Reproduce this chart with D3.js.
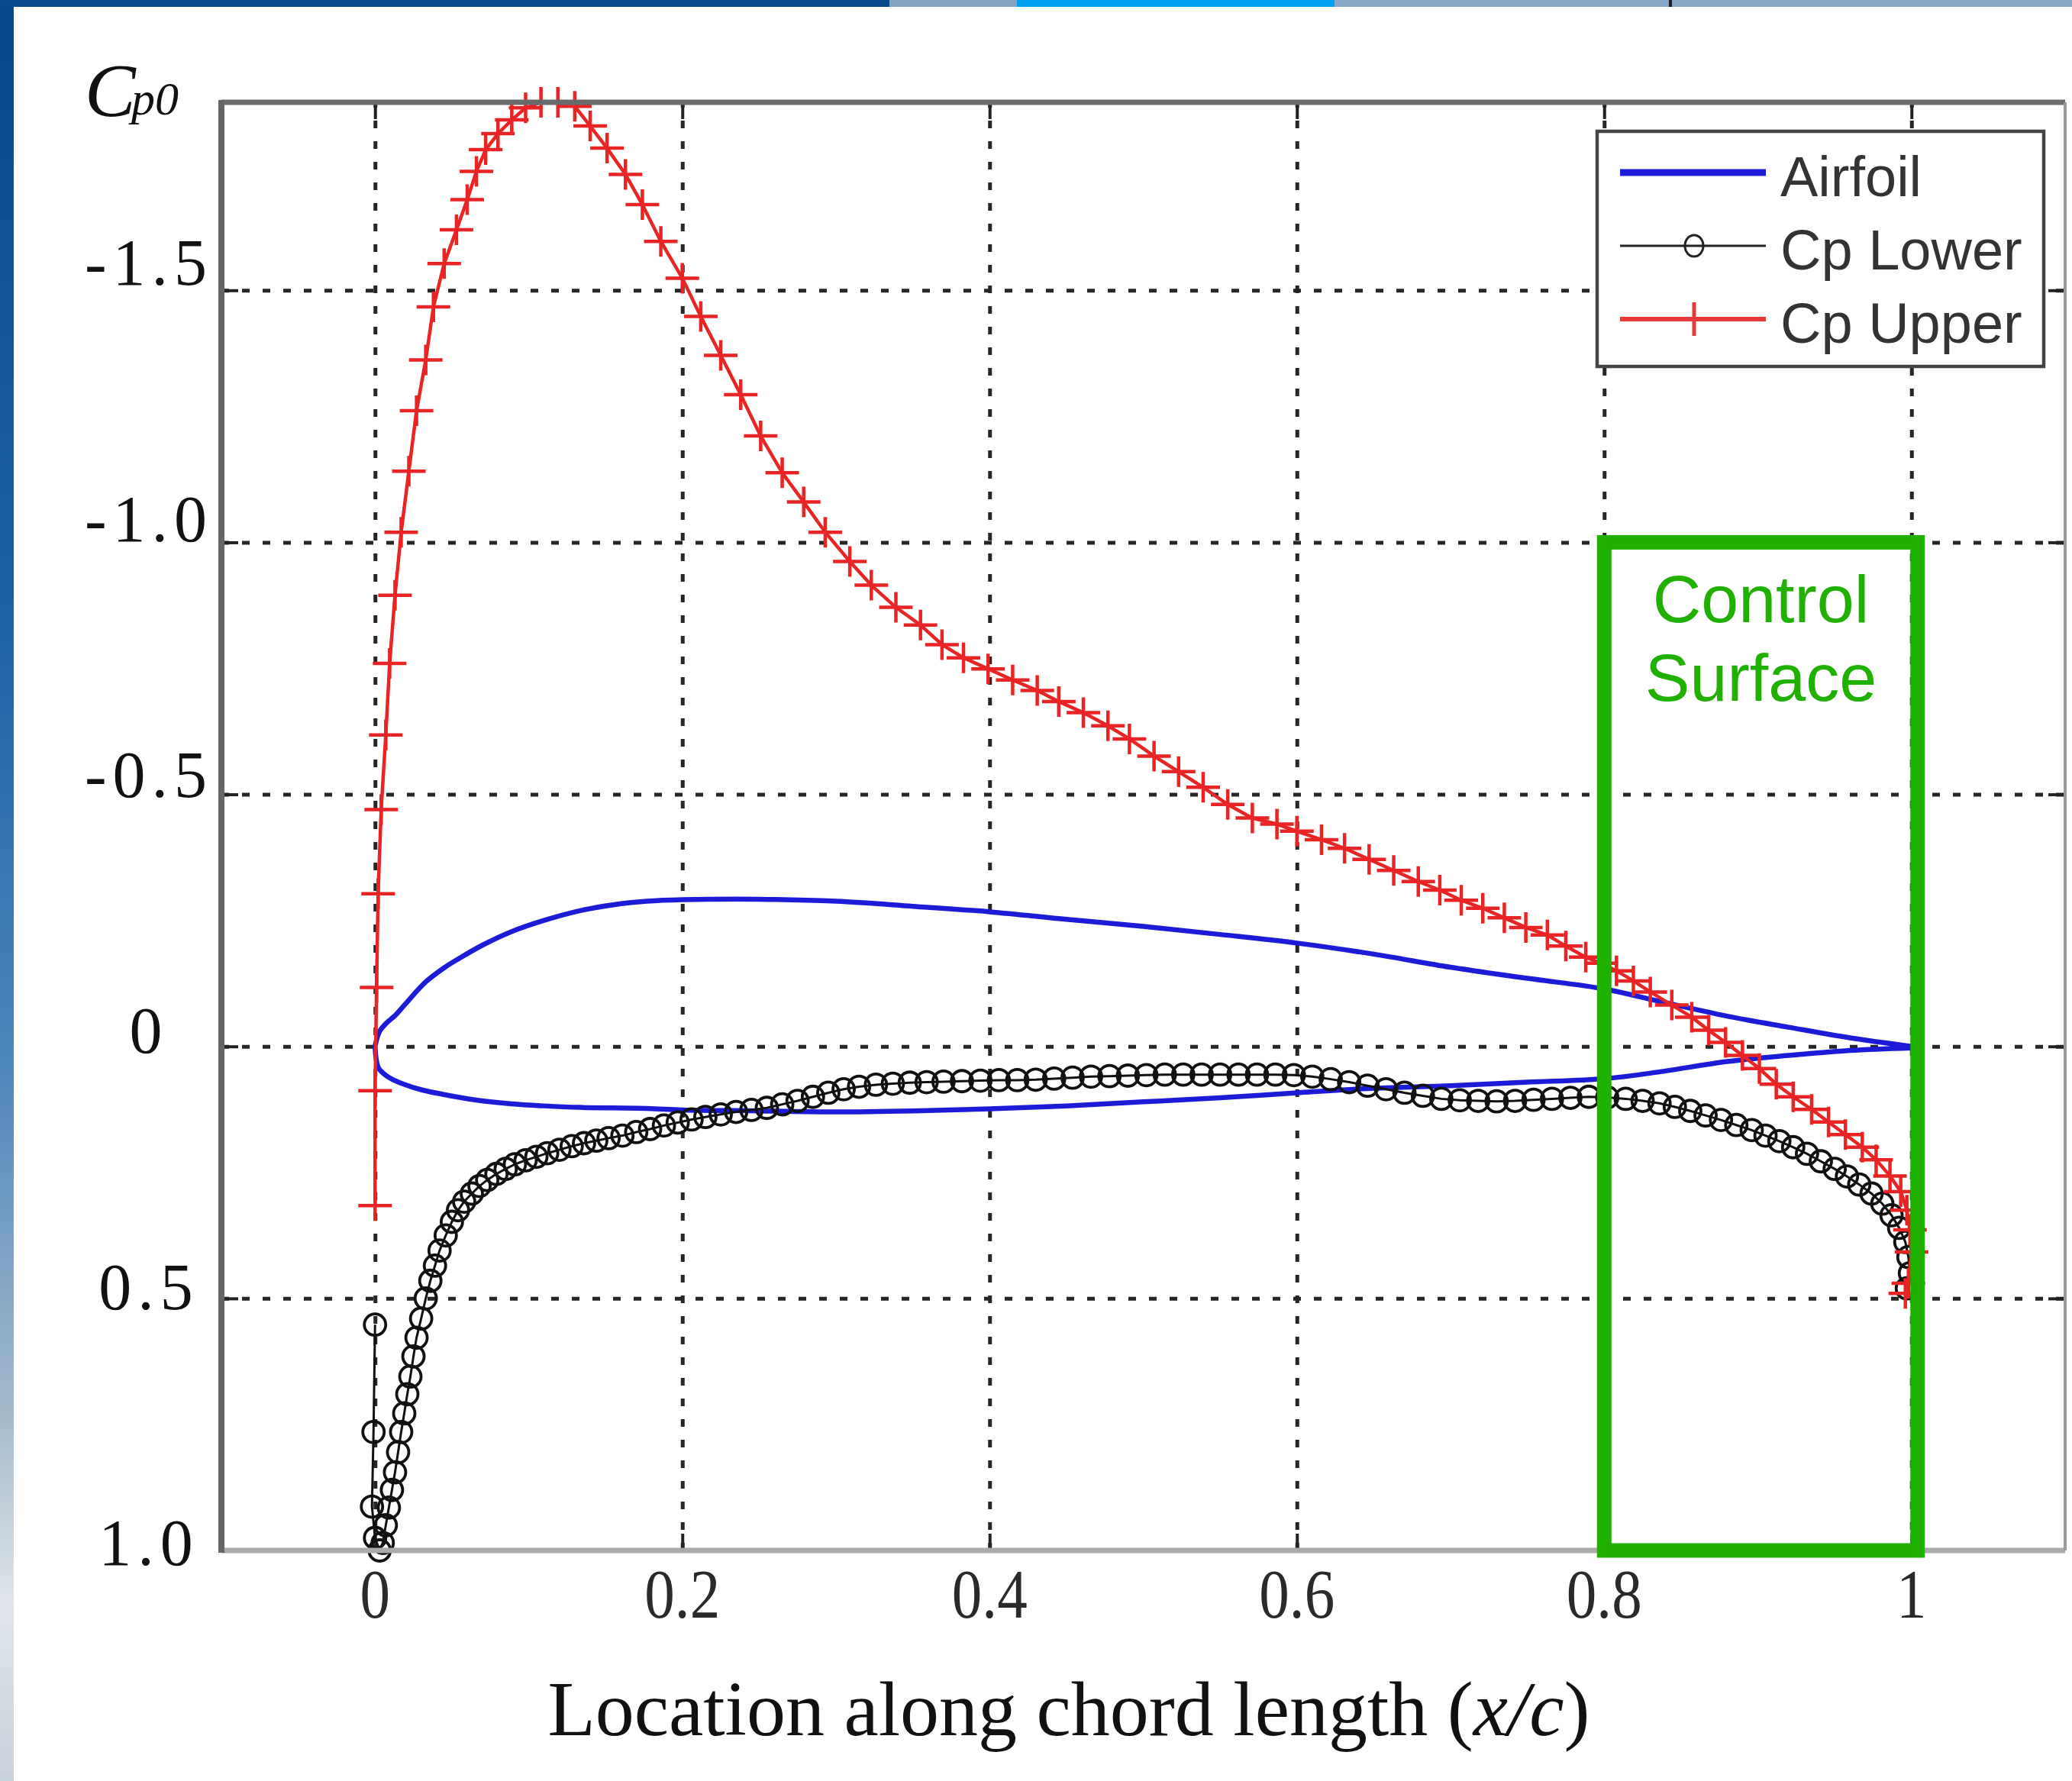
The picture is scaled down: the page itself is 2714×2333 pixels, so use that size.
<!DOCTYPE html>
<html>
<head>
<meta charset="utf-8">
<script src="https://cdn.jsdelivr.net/npm/d3@7"></script>
<style>
body { margin: 0; background: #fff; }
svg { display: block; }
.serif { font-family: "Liberation Serif", "DejaVu Serif", serif; }
.sans { font-family: "Liberation Sans", Arial, sans-serif; }
</style>
</head>
<body>
<svg id="chart" width="2714" height="2333"></svg>
<script>
const xTicks = [0, 0.2, 0.4, 0.6, 0.8, 1];
const xTickLabels = ["0", "0.2", "0.4", "0.6", "0.8", "1"];
const yTicks = [-1.5, -1.0, -0.5, 0, 0.5, 1.0];
const yTickLabels = ["-1.5", "-1.0", "-0.5", "0", "0.5", "1.0"];
const xDomain = [-0.1, 1.1];
const yDomain = [-1.873, 1.0];

// airfoil outline, drawn on the Cp axes
const airfoilUpper = [
	[0, 0], [0.003, -0.03], [0.008, -0.048], [0.013, -0.061], [0.02, -0.085], [0.033, -0.128],
	[0.045, -0.156], [0.055, -0.175], [0.07, -0.201], [0.089, -0.228], [0.11, -0.25], [0.133, -0.269],
	[0.155, -0.281], [0.177, -0.288], [0.2, -0.291], [0.25, -0.292], [0.3, -0.288], [0.35, -0.278],
	[0.4, -0.267], [0.45, -0.252], [0.5, -0.238], [0.55, -0.222], [0.6, -0.205], [0.65, -0.183],
	[0.7, -0.157], [0.75, -0.135], [0.8, -0.114], [0.835, -0.09], [0.88, -0.06], [0.92, -0.038],
	[0.96, -0.017], [1.0, 0]
];
const airfoilLower = [
	[0, 0], [0.002, 0.041], [0.006, 0.055], [0.011, 0.065], [0.017, 0.073], [0.03, 0.086],
	[0.044, 0.095], [0.065, 0.106], [0.089, 0.114], [0.11, 0.118], [0.133, 0.121], [0.177, 0.123],
	[0.2, 0.126], [0.25, 0.128], [0.3, 0.13], [0.35, 0.128], [0.4, 0.124], [0.45, 0.118],
	[0.5, 0.11], [0.55, 0.102], [0.6, 0.092], [0.65, 0.083], [0.7, 0.078], [0.75, 0.071],
	[0.8, 0.064], [0.835, 0.051], [0.88, 0.03], [0.92, 0.018], [0.96, 0.008], [1.0, 0.003]
];

const cpLower = [
	[0.000, 0.552], [-0.001, 0.765], [-0.002, 0.913], [0.000, 0.975], [0.003, 1.000], [0.005, 0.985],
	[0.007, 0.950], [0.009, 0.915], [0.011, 0.880], [0.013, 0.845], [0.015, 0.805], [0.017, 0.765],
	[0.019, 0.728], [0.021, 0.690], [0.023, 0.655], [0.025, 0.615], [0.027, 0.578], [0.030, 0.540],
	[0.033, 0.500], [0.036, 0.465], [0.039, 0.435], [0.042, 0.405], [0.046, 0.375], [0.050, 0.348],
	[0.054, 0.325], [0.058, 0.308], [0.063, 0.292], [0.068, 0.277], [0.073, 0.265], [0.079, 0.253],
	[0.085, 0.243], [0.091, 0.234], [0.098, 0.226], [0.105, 0.219], [0.112, 0.212], [0.120, 0.205],
	[0.128, 0.198], [0.136, 0.192], [0.144, 0.187], [0.152, 0.182], [0.161, 0.177], [0.170, 0.170],
	[0.179, 0.164], [0.188, 0.157], [0.197, 0.151], [0.206, 0.145], [0.215, 0.140], [0.225, 0.135],
	[0.235, 0.130], [0.245, 0.126], [0.255, 0.122], [0.265, 0.115], [0.275, 0.108], [0.285, 0.100],
	[0.295, 0.092], [0.305, 0.085], [0.315, 0.080], [0.326, 0.076], [0.337, 0.074], [0.348, 0.072],
	[0.359, 0.071], [0.370, 0.070], [0.382, 0.069], [0.394, 0.068], [0.406, 0.067], [0.418, 0.067],
	[0.430, 0.066], [0.442, 0.064], [0.454, 0.062], [0.466, 0.060], [0.478, 0.059], [0.490, 0.058],
	[0.502, 0.057], [0.514, 0.056], [0.526, 0.056], [0.538, 0.056], [0.550, 0.056], [0.562, 0.056],
	[0.574, 0.056], [0.586, 0.056], [0.598, 0.057], [0.610, 0.060], [0.622, 0.065], [0.634, 0.071],
	[0.646, 0.078], [0.658, 0.085], [0.670, 0.092], [0.682, 0.098], [0.694, 0.104], [0.706, 0.107],
	[0.718, 0.108], [0.730, 0.109], [0.742, 0.108], [0.754, 0.106], [0.766, 0.104], [0.778, 0.102],
	[0.790, 0.100], [0.802, 0.101], [0.814, 0.104], [0.825, 0.108], [0.836, 0.113], [0.846, 0.120],
	[0.856, 0.128], [0.866, 0.137], [0.876, 0.146], [0.886, 0.156], [0.896, 0.166], [0.905, 0.177],
	[0.914, 0.188], [0.923, 0.200], [0.932, 0.213], [0.941, 0.228], [0.950, 0.243], [0.958, 0.258],
	[0.966, 0.274], [0.974, 0.292], [0.981, 0.312], [0.987, 0.335], [0.992, 0.360], [0.996, 0.388],
	[0.998, 0.418], [0.999, 0.450], [0.997, 0.480]
];

const cpUpper = [
	[0.000, 0.316], [0.000, 0.088], [0.001, -0.117], [0.002, -0.303], [0.004, -0.470], [0.007, -0.618],
	[0.0095, -0.760], [0.013, -0.895], [0.017, -1.020], [0.022, -1.141], [0.027, -1.261], [0.033, -1.362],
	[0.038, -1.467], [0.045, -1.553], [0.053, -1.620], [0.060, -1.680], [0.066, -1.736], [0.072, -1.779],
	[0.080, -1.811], [0.089, -1.838], [0.098, -1.862], [0.108, -1.873], [0.119, -1.873], [0.130, -1.865],
	[0.140, -1.826], [0.151, -1.782], [0.163, -1.730], [0.174, -1.670], [0.186, -1.597], [0.200, -1.524],
	[0.212, -1.448], [0.225, -1.371], [0.238, -1.293], [0.251, -1.211], [0.265, -1.138], [0.279, -1.080],
	[0.293, -1.020], [0.309, -0.962], [0.323, -0.915], [0.339, -0.871], [0.355, -0.836], [0.369, -0.797],
	[0.383, -0.771], [0.399, -0.749], [0.415, -0.727], [0.431, -0.706], [0.445, -0.684], [0.461, -0.662],
	[0.477, -0.636], [0.491, -0.610], [0.507, -0.576], [0.523, -0.545], [0.539, -0.514], [0.555, -0.480],
	[0.571, -0.453], [0.587, -0.441], [0.600, -0.427], [0.616, -0.410], [0.631, -0.393], [0.647, -0.371],
	[0.663, -0.349], [0.679, -0.327], [0.693, -0.310], [0.707, -0.290], [0.721, -0.274], [0.735, -0.255],
	[0.749, -0.236], [0.763, -0.221], [0.775, -0.199], [0.788, -0.177], [0.798, -0.165], [0.808, -0.150],
	[0.819, -0.130], [0.830, -0.108], [0.844, -0.082], [0.857, -0.058], [0.868, -0.032], [0.879, -0.008],
	[0.890, 0.018], [0.901, 0.044], [0.912, 0.075], [0.923, 0.100], [0.935, 0.125], [0.946, 0.150],
	[0.957, 0.175], [0.968, 0.200], [0.977, 0.225], [0.986, 0.257], [0.993, 0.288], [0.997, 0.325],
	[0.999, 0.364], [1.000, 0.408], [0.998, 0.470], [0.996, 0.490]
];

// region marked as the control surface: chord 0.8 to 1, Cp -1 to 1
const controlX = [0.8, 1.0];
const controlY = [-1.0, 1.0];

const margin = {top: 134, right: 9, bottom: 302, left: 290};
const W = 2714, H = 2333;
const width = W - margin.left - margin.right;
const height = H - margin.top - margin.bottom;

const svg = d3.select("#chart");

// slide background showing at the edges
let defs = svg.append("defs");
let grad = defs.append("linearGradient").attr("id", "sideGrad")
	.attr("x1", 0).attr("y1", 0).attr("x2", 0).attr("y2", 1);
[[0, "#08468a"], [0.35, "#1d62a6"], [0.6, "#4f86bb"], [0.8, "#a7bccd"], [0.9, "#dfe5ea"], [1, "#c9d3dc"]]
	.forEach(s => grad.append("stop").attr("offset", s[0]).attr("stop-color", s[1]));
svg.append("rect").attr("x", 0).attr("y", 0).attr("width", 18).attr("height", H).attr("fill", "url(#sideGrad)");
svg.append("rect").attr("x", 0).attr("y", 0).attr("width", 1165).attr("height", 9).attr("fill", "#0b4a8c");
svg.append("rect").attr("x", 1165).attr("y", 0).attr("width", 167).attr("height", 9).attr("fill", "#86a3c3");
svg.append("rect").attr("x", 1332).attr("y", 0).attr("width", 416).attr("height", 9).attr("fill", "#00a2f0");
svg.append("rect").attr("x", 1748).attr("y", 0).attr("width", W - 1748).attr("height", 9).attr("fill", "#88a6c6");
svg.append("rect").attr("x", 2186).attr("y", 0).attr("width", 4).attr("height", 9).attr("fill", "#222");

const g = svg.append("g").attr("transform", "translate(" + margin.left + "," + margin.top + ")");

const x = d3.scaleLinear().domain(xDomain).range([0, width]);
const y = d3.scaleLinear().domain(yDomain).range([0, height]);

// dotted grid
g.append("g")
	.attr("class", "grid")
	.attr("transform", "translate(0," + height + ")")
	.call(d3.axisBottom(x).tickValues(xTicks).tickSize(-height).tickFormat(""));
g.append("g")
	.attr("class", "grid")
	.call(d3.axisLeft(y).tickValues(yTicks.slice(0, 5)).tickSize(-width).tickFormat(""));
g.selectAll(".grid .domain").remove();
g.selectAll(".grid line")
	.attr("stroke", "#262626")
	.attr("stroke-width", 5)
	.attr("stroke-dasharray", "10,17");

// inward ticks on all four sides
g.append("g").attr("class", "tk")
	.call(d3.axisBottom(x).tickValues(xTicks).tickSize(22).tickFormat(""));
g.append("g").attr("class", "tk").attr("transform", "translate(0," + height + ")")
	.call(d3.axisTop(x).tickValues(xTicks).tickSize(22).tickFormat(""));
g.append("g").attr("class", "tk")
	.call(d3.axisRight(y).tickValues(yTicks).tickSize(22).tickFormat(""));
g.append("g").attr("class", "tk").attr("transform", "translate(" + width + ",0)")
	.call(d3.axisLeft(y).tickValues(yTicks).tickSize(22).tickFormat(""));
g.selectAll(".tk .domain").remove();
g.selectAll(".tk line").attr("stroke", "#222").attr("stroke-width", 4);

const line = d3.line().x(d => x(d[0])).y(d => y(d[1]));
const smoothLine = d3.line().x(d => x(d[0])).y(d => y(d[1])).curve(d3.curveCatmullRom);

// airfoil
g.append("path")
	.datum(airfoilUpper.slice().reverse().concat(airfoilLower))
	.attr("d", smoothLine)
	.attr("fill", "none")
	.attr("stroke", "#1c1cd8")
	.attr("stroke-width", 6.5)
	.attr("stroke-linejoin", "round");

// Cp lower
g.append("path")
	.datum(cpLower)
	.attr("d", line)
	.attr("fill", "none")
	.attr("stroke", "#111")
	.attr("stroke-width", 3);
g.selectAll(".lo").data(cpLower).enter().append("circle")
	.attr("class", "lo")
	.attr("cx", d => x(d[0]))
	.attr("cy", d => y(d[1]))
	.attr("r", 14)
	.attr("fill", "none")
	.attr("stroke", "#111")
	.attr("stroke-width", 3.8);

// Cp upper
g.append("path")
	.datum(cpUpper)
	.attr("d", line)
	.attr("fill", "none")
	.attr("stroke", "#e82424")
	.attr("stroke-width", 4.5);
g.selectAll(".up").data(cpUpper).enter().append("path")
	.attr("class", "up")
	.attr("transform", d => "translate(" + x(d[0]) + "," + y(d[1]) + ")")
	.attr("d", "M-22,0H22M0,-20V20")
	.attr("stroke", "#e82424")
	.attr("stroke-width", 4.5);

// box frame
g.append("line").attr("x1", 0).attr("x2", width).attr("y1", 0).attr("y2", 0)
	.attr("stroke", "#6a6a6a").attr("stroke-width", 7);
g.append("line").attr("x1", 0).attr("x2", width).attr("y1", height).attr("y2", height)
	.attr("stroke", "#aaa").attr("stroke-width", 7);
g.append("line").attr("x1", width).attr("x2", width).attr("y1", 0).attr("y2", height)
	.attr("stroke", "#999").attr("stroke-width", 4);
g.append("line").attr("x1", 0).attr("x2", 0).attr("y1", -3).attr("y2", height + 3)
	.attr("stroke", "#666").attr("stroke-width", 8);

// tick labels
g.selectAll(".xl").data(xTicks).enter().append("text")
	.attr("class", "xl serif")
	.attr("transform", d => "translate(" + x(d) + "," + (height + 88) + ") scale(0.86,1)")
	.attr("text-anchor", "middle")
	.attr("font-size", 92)
	.attr("fill", "#2a2a2a")
	.text((d, i) => xTickLabels[i]);
g.selectAll(".yl").data(yTicks).enter().append("text")
	.attr("class", "yl serif")
	.attr("x", -95)
	.attr("y", d => y(d) - 7 + (d + 1.5) * 10.4)
	.attr("text-anchor", "middle")
	.attr("font-size", 86)
	.attr("letter-spacing", 8)
	.attr("fill", "#111")
	.text((d, i) => yTickLabels[i]);

// axis titles
let cp = svg.append("text").attr("class", "serif").attr("x", 111).attr("y", 152)
	.attr("font-style", "italic").attr("fill", "#111");
cp.append("tspan").attr("font-size", 100).text("C");
cp.append("tspan").attr("x", 172).attr("y", 150).attr("font-size", 62).text("p0");

let xt = svg.append("text").attr("class", "serif").attr("x", 1400).attr("y", 2273)
	.attr("text-anchor", "middle").attr("font-size", 102).attr("fill", "#111");
xt.append("tspan").text("Location along chord length (");
xt.append("tspan").attr("font-style", "italic").text("x/c");
xt.append("tspan").text(")");

// legend
const lg = svg.append("g");
lg.append("rect").attr("x", 2092).attr("y", 172).attr("width", 585).attr("height", 308)
	.attr("fill", "#fff").attr("stroke", "#444").attr("stroke-width", 4.5);
const legendItems = [
	{name: "Airfoil", color: "#1c1cd8", w: 9, marker: null},
	{name: "Cp Lower", color: "#222", w: 3, marker: "o"},
	{name: "Cp Upper", color: "#e83a3a", w: 6, marker: "+"}
];
legendItems.forEach((it, i) => {
	let ly = 226 + i * 96;
	lg.append("line").attr("x1", 2122).attr("x2", 2313).attr("y1", ly).attr("y2", ly)
		.attr("stroke", it.color).attr("stroke-width", it.w);
	if (it.marker == "o") {
		lg.append("ellipse").attr("cx", 2219).attr("cy", ly).attr("rx", 12).attr("ry", 14)
			.attr("fill", "none").attr("stroke", it.color).attr("stroke-width", 3);
	} else if (it.marker == "+") {
		lg.append("path").attr("transform", "translate(2219," + ly + ")")
			.attr("d", "M0,-22V22").attr("stroke", it.color).attr("stroke-width", 5);
	}
	lg.append("text").attr("class", "sans").attr("x", 2332).attr("y", ly + 31)
		.attr("font-size", 74).attr("fill", "#333").text(it.name);
});

// control surface annotation
const green = "#1fb000";
const bx0 = x(controlX[0]), bx1 = x(controlX[1]) + 8;
const by0 = y(controlY[0]), by1 = y(controlY[1]);
g.append("rect")
	.attr("x", bx0).attr("y", by0)
	.attr("width", bx1 - bx0).attr("height", by1 - by0)
	.attr("fill", "none").attr("stroke", green).attr("stroke-width", 19);
g.append("text").attr("class", "sans")
	.attr("x", (bx0 + bx1) / 2).attr("y", by0 + 105)
	.attr("text-anchor", "middle").attr("font-size", 88).attr("fill", green)
	.text("Control");
g.append("text").attr("class", "sans")
	.attr("x", (bx0 + bx1) / 2).attr("y", by0 + 208)
	.attr("text-anchor", "middle").attr("font-size", 88).attr("fill", green)
	.text("Surface");
</script>
</body>
</html>
